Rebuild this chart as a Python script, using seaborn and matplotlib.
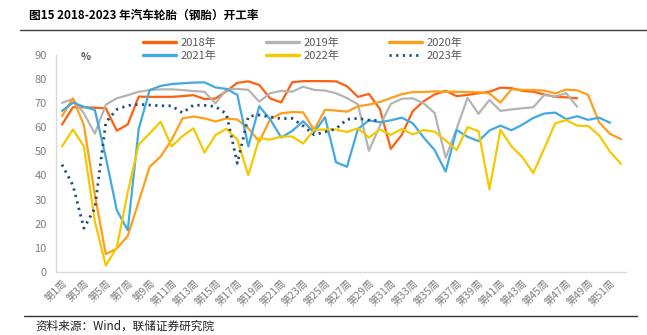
import numpy as np
import pandas as pd
import matplotlib
matplotlib.use("Agg")
import matplotlib.pyplot as plt
from matplotlib.lines import Line2D
import seaborn as sns

# 周度开工率（%）
weeks = [f"第{i}周" for i in range(1, 53)]

y2018 = [61, 68.2, 68.2, 68, 67.8, 58.5, 61.1, 72.6, 72.5, 72.5,
         72.5, 72.8, 73.2, 71.6, 71.8, 74.8, 78.3, 78.9, 77.4, 71.8,
         70.2, 78.5, 79, 79, 79, 78.9, 76.9, 72.5, 73.7, 67.5,
         51, 56.8, 66.6, 70.7, 73.5, 75, 72.8, 73.3, 74, 74.6,
         76.3, 76.1, 75, 74.6, 73.5, 72.5, 72.3, 71.9]
y2019 = [70, 71.6, 65.7, 57.3, 69.3, 71.9, 73.2, 74.6, 75.3, 75.6,
         75.6, 75.3, 74.9, 74.6, 69.8, 75.5, 75.8, 75.4, 70.5, 74,
         75, 74.6, 76.7, 75.4, 75.1, 74, 72, 69.4, 50.2, 60.5,
         69.6, 71.7, 71.9, 69.8, 65.8, 47.3, 59.3, 72.1, 65.5, 71.2,
         66.7, 67.3, 67.8, 68.2, 73.3, 72.6, 74, 68.4]
y2020 = [64.5, 71.9, 60.8, 32, 7.5, 9.8, 15, 29.2, 43.6, 47.8,
         54.7, 63.6, 64.4, 63.6, 62.3, 63.6, 63.1, 59.5, 54, 63.3,
         65.7, 66.2, 66.1, 58.8, 67.2, 66.8, 66.4, 68.6, 69.3, 70.4,
         72, 73.6, 74.5, 74.5, 74.8, 74.6, 74.6, 74.5, 74.4, 73.9,
         70.1, 75.6, 75.4, 75.3, 75.1, 73.9, 75.5, 75.2, 73.3, 62,
         57.2, 55]
y2021 = [66.7, 70.1, 68.4, 67.1, 47.5, 25.7, 17.4, 59.2, 75.3, 77,
         77.8, 78.1, 78.4, 78.5, 76.4, 75.8, 73.3, 52, 68.6, 63.2,
         55.7, 58.4, 62.4, 57.8, 64.1, 45.5, 43.6, 59.2, 62.8, 62,
         62.8, 63.9, 61.6, 55.7, 50.5, 41.6, 58.8, 56, 54.2, 58.6,
         60.6, 58.7, 61, 63.8, 65.6, 66, 63.3, 64.5, 63, 63.9,
         61.8]
y2022 = [52, 59, 52, 21, 2.8, 10.2, 33, 52.8, 57.4, 62.2,
         52, 56.3, 59.5, 49.5, 56.7, 59.3, 54.9, 40.1, 55.5, 54.8,
         56.1, 56.1, 53.2, 58.9, 59, 59, 58, 59.5, 55.7, 59,
         56.8, 59.2, 57, 58.8, 58.1, 54.5, 50.5, 60, 58.3, 34.3,
         58.9, 52.1, 47.6, 41, 51.2, 61.6, 62.9, 60.6, 60.5, 56.6,
         49.8, 44.8]
y2023 = [44.5, 36, 18.2, 26.5, 62, 67.3, 68.9, 69.4, 69.1, 68.8,
         68.8, 65.9, 69.1, 69, 68.5, 65.5, 45, 64.4, 65, 64.2,
         63.5, 63.6, 60.5, 56.8, 58, 59.3, 63.2, 63.6, 62.9, 62.7]

series = [
    ("2018年", y2018, "#FF6010", "-"),
    ("2019年", y2019, "#B4B4B4", "-"),
    ("2020年", y2020, "#FF9E1B", "-"),
    ("2021年", y2021, "#42A9E1", "-"),
    ("2022年", y2022, "#F4C900", "-"),
    ("2023年", y2023, "#1F4E79", (0, (0.8, 1.6))),
]

sns.set_theme(style="white")
plt.rcParams["font.family"] = ["Noto Sans CJK SC", "DejaVu Sans"]
plt.rcParams["axes.unicode_minus"] = False

fig = plt.figure(figsize=(6.47, 3.35), dpi=100)
ax = fig.add_axes([0.0873, 0.1872, 0.881, 0.6501])

for name, vals, color, ls in series:
    df = pd.DataFrame({"x": np.arange(len(vals)), "v": vals})
    sns.lineplot(data=df, x="x", y="v", ax=ax, color=color, linestyle=ls,
                 linewidth=2.0 if ls != "-" else 1.6, label=name, sort=False)

ax.set_xlim(-0.5, 51.5)
ax.set_ylim(0, 90)
ax.set_yticks(range(0, 91, 10))
ax.set_xticks(range(0, 52, 2))
ax.set_xticklabels(weeks[::2], rotation=45, ha="right", rotation_mode="anchor")
ax.set_xlabel("")
ax.set_ylabel("")
ax.tick_params(axis="both", length=0, labelsize=7.5, colors="#808080")
ax.tick_params(axis="y", labelsize=8, pad=7)
ax.tick_params(axis="x", pad=4)
for s in ("top", "right"):
    ax.spines[s].set_visible(False)
for s in ("left", "bottom"):
    ax.spines[s].set_color("#D9D9D9")
    ax.spines[s].set_linewidth(1.0)
ax.grid(False)

ax.text(0.052, 0.99, "%", transform=ax.transAxes, fontsize=7.5,
        color="#595959", ha="center", va="center", fontweight="bold")

# 图例按行排列：2018/2019/2020 在第一行，2021/2022/2023 在第二行
ax.get_legend().remove()
handles = [Line2D([], [], color=c, linestyle=ls, linewidth=2.4 if ls == "-" else 2.0)
           for _, _, c, ls in series]
labels = [n for n, _, _, _ in series]
order = [0, 3, 1, 4, 2, 5]
fig.legend([handles[i] for i in order], [labels[i] for i in order],
           loc="center", bbox_to_anchor=(0.468, 0.854),
           ncol=3, frameon=False, fontsize=8, labelcolor="#595959",
           handlelength=3.0, handletextpad=0.4, columnspacing=4.45,
           labelspacing=0.25, borderpad=0)

fig.text(0.045, 0.955, "图15 2018-2023 年汽车轮胎（钢胎）开工率", fontsize=8.4,
         fontweight="bold", color="#000000", ha="left", va="center")
fig.add_artist(Line2D([20 / 647, 1.0], [1 - 30 / 335] * 2, color="#404040", lw=1.0))
fig.add_artist(Line2D([24 / 647, 637 / 647], [1 - 316 / 335] * 2, color="#333333", lw=1.0))
fig.text(35 / 647, 1 - 326 / 335, "资料来源：Wind，联储证券研究院", fontsize=8.4,
         color="#222222", ha="left", va="center")

fig.savefig("out.png", dpi=100)
